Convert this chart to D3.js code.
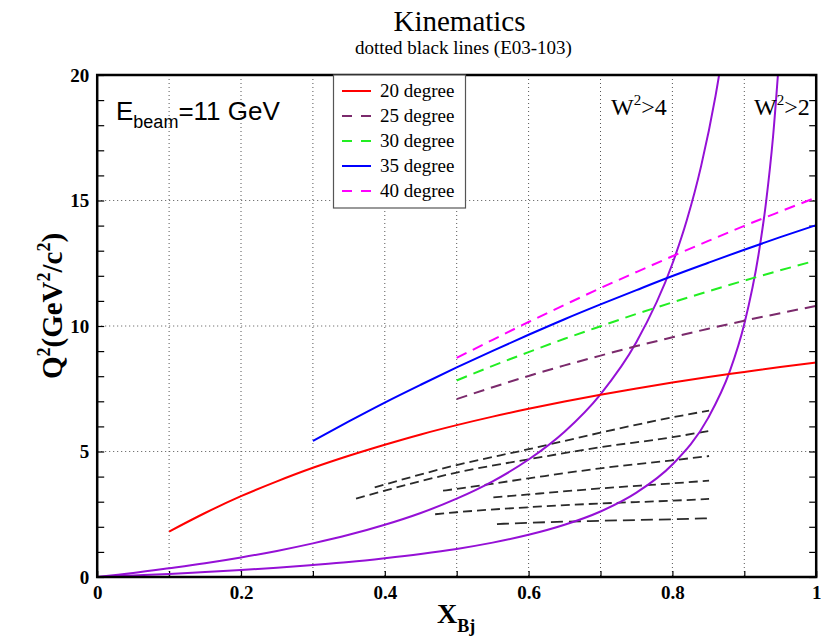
<!DOCTYPE html>
<html><head><meta charset="utf-8">
<script src="https://cdn.jsdelivr.net/npm/d3@7"></script>
<style>html,body{margin:0;padding:0;background:#fff;}svg{display:block;}</style>
</head><body>
<svg id="c" width="821" height="640"></svg>
<script>
// ---- data ----
const legendLabels = ["20 degree","25 degree","30 degree","35 degree","40 degree"];
const xTickValues = [0, 0.2, 0.4, 0.6, 0.8, 1];
const xTickLabels = ["0","0.2","0.4","0.6","0.8","1"];
const yTickValues = [0, 5, 10, 15, 20];
const yTickLabels = ["0","5","10","15","20"];

const x20 = [0.10,0.15,0.20,0.25,0.30,0.35,0.40,0.45,0.50,0.55,0.60,0.65,0.70,0.75,0.80,0.85,0.90,0.95,1.00];
const q20 = [1.81,2.55,3.22,3.81,4.35,4.83,5.27,5.68,6.05,6.39,6.70,6.99,7.26,7.51,7.75,7.97,8.17,8.37,8.55];
const x25 = [0.50,0.55,0.60,0.65,0.70,0.75,0.80,0.85,0.90,0.95,1.00];
const q25 = [7.09,7.56,8.01,8.43,8.82,9.20,9.55,9.89,10.21,10.51,10.80];
const x30 = [0.50,0.55,0.60,0.65,0.70,0.75,0.80,0.85,0.90,0.95,1.00];
const q30 = [7.83,8.41,8.96,9.49,9.99,10.48,10.94,11.38,11.81,12.22,12.61];
const x35 = [0.30,0.35,0.40,0.45,0.50,0.55,0.60,0.65,0.70,0.75,0.80,0.85,0.90,0.95,1.00];
const q35 = [5.42,6.20,6.95,7.66,8.35,9.01,9.65,10.27,10.86,11.43,11.99,12.52,13.04,13.54,14.02];
const x40 = [0.50,0.55,0.60,0.65,0.70,0.75,0.80,0.85,0.90,0.95,1.00];
const q40 = [8.73,9.45,10.16,10.84,11.51,12.15,12.78,13.39,13.99,14.56,15.12];

const xW4 = [0,0.05,0.10,0.15,0.20,0.25,0.30,0.35,0.40,0.45,0.50,0.55,0.60,0.65,0.70,0.75,0.80,0.82,0.84,0.86,0.87];
const qW4 = [0,0.16,0.35,0.55,0.78,1.04,1.34,1.68,2.08,2.55,3.12,3.81,4.68,5.79,7.28,9.36,12.48,14.21,16.38,19.17,20.88];
const xW2 = [0,0.05,0.10,0.15,0.20,0.25,0.30,0.35,0.40,0.45,0.50,0.55,0.60,0.65,0.70,0.75,0.80,0.85,0.88,0.90,0.92,0.93,0.94,0.95];
const qW2 = [0,0.06,0.12,0.20,0.28,0.37,0.48,0.60,0.75,0.92,1.12,1.37,1.68,2.08,2.61,3.36,4.48,6.35,8.21,10.08,12.88,14.88,17.55,21.28];

const xE1 = [0.386,0.50,0.60,0.70,0.80,0.851];
const qE1 = [3.57,4.46,5.09,5.75,6.36,6.63];
const xE2 = [0.360,0.40,0.50,0.60,0.70,0.80,0.851];
const qE2 = [3.12,3.44,4.16,4.69,5.17,5.57,5.82];
const xE3 = [0.481,0.50,0.60,0.70,0.80,0.851];
const qE3 = [3.44,3.51,3.93,4.33,4.65,4.82];
const xE4 = [0.551,0.60,0.70,0.80,0.851];
const qE4 = [3.17,3.29,3.53,3.73,3.84];
const xE5 = [0.470,0.50,0.60,0.70,0.80,0.851];
const qE5 = [2.50,2.58,2.78,2.93,3.04,3.11];
const xE6 = [0.556,0.60,0.70,0.80,0.851];
const qE6 = [2.11,2.16,2.24,2.30,2.34];

// ---- drawing ----
const svg = d3.select("#c");
const L = 97.2, R = 816.2, T = 75, B = 577;
const x = d3.scaleLinear().domain([0,1]).range([L,R]);
const y = d3.scaleLinear().domain([0,20]).range([B,T]);
const serif = "'Liberation Serif','Times New Roman',serif";
const sans = "'Liberation Sans',Arial,sans-serif";

svg.append("defs").append("clipPath").attr("id","clip")
  .append("rect").attr("x",L).attr("y",T).attr("width",R-L).attr("height",B-T);

// grid
const gridX = d3.range(1,10).map(i=>i/10);
svg.append("g").selectAll("line").data(gridX).join("line")
  .attr("x1",d=>x(d)).attr("x2",d=>x(d)).attr("y1",T).attr("y2",B)
  .attr("stroke","#555").attr("stroke-width",1).attr("stroke-dasharray","1,3");
svg.append("g").selectAll("line").data([5,10,15]).join("line")
  .attr("x1",L).attr("x2",R).attr("y1",d=>y(d)).attr("y2",d=>y(d))
  .attr("stroke","#555").attr("stroke-width",1).attr("stroke-dasharray","1,3");

// ticks (inward) via axes
const yMinor = d3.range(0,21);
svg.append("g").attr("transform",`translate(${L},0)`)
  .call(d3.axisRight(y).tickValues(yMinor).tickSize(7).tickFormat(""))
  .call(g=>g.select(".domain").remove())
  .call(g=>g.selectAll("line").attr("stroke","#000").attr("stroke-width",1.2));
svg.append("g").attr("transform",`translate(${R},0)`)
  .call(d3.axisLeft(y).tickValues(yMinor).tickSize(7).tickFormat(""))
  .call(g=>g.select(".domain").remove())
  .call(g=>g.selectAll("line").attr("stroke","#000").attr("stroke-width",1.2));
svg.append("g").attr("transform",`translate(0,${B})`)
  .call(d3.axisTop(x).tickValues(d3.range(0,11).map(i=>i/10)).tickSize(6).tickFormat(""))
  .call(g=>g.select(".domain").remove())
  .call(g=>g.selectAll("line").attr("stroke","#000").attr("stroke-width",1.2));

// tick labels
const xAx = svg.append("g").attr("transform",`translate(0,${B})`)
  .call(d3.axisBottom(x).tickValues(xTickValues).tickSize(0).tickPadding(8)
    .tickFormat((d,i)=>xTickLabels[i]));
xAx.select(".domain").remove();
xAx.selectAll("text").attr("font-family",serif).attr("font-weight","bold").attr("font-size",19).attr("fill","#000").attr("dy","0.75em");
const yAx = svg.append("g").attr("transform",`translate(${L},0)`)
  .call(d3.axisLeft(y).tickValues(yTickValues).tickSize(0).tickPadding(8)
    .tickFormat((d,i)=>yTickLabels[i]));
yAx.select(".domain").remove();
yAx.selectAll("text").attr("font-family",serif).attr("font-weight","bold").attr("font-size",19).attr("fill","#000");

// curves
const line = (xs,qs) => d3.line().x((d,i)=>x(xs[i])).y(d=>y(d)).curve(d3.curveMonotoneX)(qs);
const plot = svg.append("g").attr("clip-path","url(#clip)");

const eSeries = [[xE1,qE1],[xE2,qE2],[xE3,qE3],[xE4,qE4],[xE5,qE5],[xE6,qE6]];
eSeries.forEach(([xs,qs],k)=>{
  plot.append("path").attr("d",line(xs,qs)).attr("fill","none")
    .attr("stroke","#2a2a2a").attr("stroke-width",1.8)
    .attr("stroke-dasharray", k===5 ? "12,6" : "9,5");
});

plot.append("path").attr("d",line(xW4,qW4)).attr("fill","none").attr("stroke","#9510d6").attr("stroke-width",2);
plot.append("path").attr("d",line(xW2,qW2)).attr("fill","none").attr("stroke","#9510d6").attr("stroke-width",2);

const colors = ["#ff0000","#7b2a6c","#22ee22","#0000ff","#ff00ff"];
const dashes = [null,"11,7","11,7",null,"11,7"];
const sx = [x20,x25,x30,x35,x40], sq = [q20,q25,q30,q35,q40];
sx.forEach((xs,i)=>{
  plot.append("path").attr("d",line(xs,sq[i])).attr("fill","none")
    .attr("stroke",colors[i]).attr("stroke-width",2)
    .attr("stroke-dasharray",dashes[i]);
});

// frame
svg.append("rect").attr("x",L).attr("y",T).attr("width",R-L).attr("height",B-T)
  .attr("fill","none").attr("stroke","#000").attr("stroke-width",2.5);

// legend
const lg = svg.append("g");
lg.append("rect").attr("x",333.5).attr("y",T).attr("width",132).attr("height",133)
  .attr("fill","#fff").attr("stroke","#555").attr("stroke-width",1.2);
legendLabels.forEach((lab,i)=>{
  const cy = 91 + i*25;
  lg.append("line").attr("x1",342).attr("x2",371).attr("y1",cy).attr("y2",cy)
    .attr("stroke",colors[i]).attr("stroke-width",2).attr("stroke-dasharray",dashes[i] ? "10,9" : null);
  lg.append("text").attr("x",380).attr("y",cy).attr("dy","0.33em")
    .attr("font-family",serif).attr("font-size",19).attr("fill","#000").text(lab);
});

// titles
svg.append("text").attr("x",459.5).attr("y",31).attr("text-anchor","middle")
  .attr("font-family",serif).attr("font-size",29).attr("fill","#000").text("Kinematics");
svg.append("text").attr("x",463.5).attr("y",54).attr("text-anchor","middle")
  .attr("font-family",serif).attr("font-size",19).attr("fill","#000").text("dotted black lines (E03-103)");

// Ebeam label
const eb = svg.append("text").attr("x",116).attr("y",120).attr("font-family",sans).attr("font-size",26).attr("fill","#000");
eb.append("tspan").text("E");
eb.append("tspan").attr("font-size",18).attr("dy",8).text("beam");
eb.append("tspan").attr("dy",-8).text("=11 GeV");

// W labels
[["4",611],["2",754]].forEach(([v,px])=>{
  const t = svg.append("text").attr("x",px).attr("y",115).attr("font-family",serif).attr("font-size",24).attr("fill","#000");
  t.append("tspan").text("W");
  t.append("tspan").attr("font-size",15).attr("dy",-10).text("2");
  t.append("tspan").attr("dy",10).text(">"+v);
});

// X axis title
const xt = svg.append("text").attr("x",437).attr("y",623).attr("font-family",serif).attr("font-weight","bold").attr("font-size",28).attr("fill","#000");
xt.append("tspan").text("X");
xt.append("tspan").attr("font-size",18).attr("dy",9).text("Bj");

// Y axis title
const yt = svg.append("text").attr("transform","translate(62,306) rotate(-90)").attr("text-anchor","middle")
  .attr("font-family",serif).attr("font-weight","bold").attr("font-size",29).attr("fill","#000");
yt.append("tspan").text("Q");
yt.append("tspan").attr("font-size",18).attr("dy",-12).text("2");
yt.append("tspan").attr("dy",12).text("(GeV");
yt.append("tspan").attr("font-size",18).attr("dy",-12).text("2");
yt.append("tspan").attr("dy",12).text("/c");
yt.append("tspan").attr("font-size",18).attr("dy",-12).text("2");
yt.append("tspan").attr("dy",12).text(")");
</script>
</body></html>
